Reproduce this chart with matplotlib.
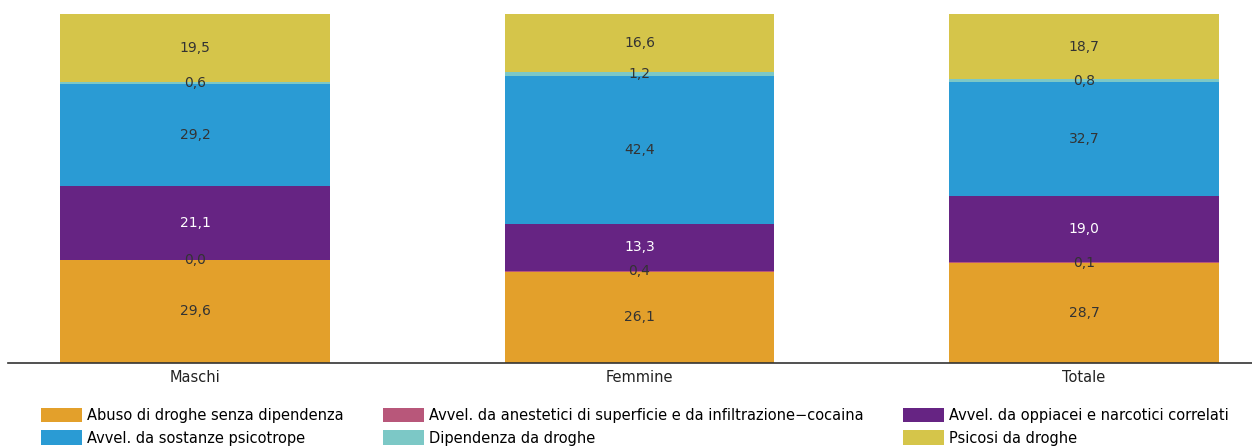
import numpy as np
import matplotlib
matplotlib.use('Agg')
import matplotlib.pyplot as plt
from matplotlib.patches import Patch

# Data (percentages)
groups = ['Maschi', 'Femmine', 'Totale']
series = [
    'Abuso di droghe senza dipendenza',
    'Avvel. da anestetici di superficie e da infiltrazione\u2212cocaina',
    'Avvel. da oppiacei e narcotici correlati',
    'Avvel. da sostanze psicotrope',
    'Dipendenza da droghe',
    'Psicosi da droghe',
]
abuso = [29.6, 26.1, 28.7]
anestetici = [0.0, 0.4, 0.1]
oppiacei = [21.1, 13.3, 19.0]
psicotrope = [29.2, 42.4, 32.7]
dipendenza = [0.6, 1.2, 0.8]
psicosi = [19.5, 16.6, 18.7]

values = [abuso, anestetici, oppiacei, psicotrope, dipendenza, psicosi]
colors = ['#E3A02B', '#B8577A', '#662483', '#2A9BD4', '#7CC8C6', '#D5C54A']
text_colors = ['#333333', '#333333', 'white', '#333333', '#333333', '#333333']

fig = plt.figure(figsize=(12.52, 4.47), dpi=100)
ax = fig.add_axes([8 / 1252, (447 - 363) / 447, 1 - 8 / 1252, (363 - 14) / 447])

x = np.arange(len(groups))
width = 0.607
bottom = np.zeros(len(groups))
for vals, col, tcol in zip(values, colors, text_colors):
    vals = np.array(vals)
    ax.bar(x, vals, width, bottom=bottom, color=col, edgecolor='none')
    for xi, b, v in zip(x, bottom, vals):
        ax.text(xi, b + v / 2, f'{v:.1f}'.replace('.', ','), ha='center', va='center',
                fontsize=10, color=tcol)
    bottom += vals

ax.set_xlim(-0.421, 2.378)
ax.set_ylim(0, 100)
ax.set_xticks(x)
ax.set_xticklabels(groups, fontsize=10.5, color='#222222')
ax.tick_params(axis='x', length=0, pad=5)
ax.set_yticks([])
for side in ['top', 'right', 'left']:
    ax.spines[side].set_visible(False)
ax.spines['bottom'].set_color('#333333')
ax.spines['bottom'].set_linewidth(1.2)

# legend filled row by row (matplotlib fills by column, so reorder)
ncol = 3
order = [0, 3, 1, 4, 2, 5]
handles = [Patch(facecolor=colors[i], edgecolor='none') for i in order]
labels = [series[i] for i in order]
fig.legend(handles, labels, loc='lower left', bbox_to_anchor=(40 / 1252, 0.0),
           ncol=ncol, frameon=False, fontsize=10.5, handlelength=2.8, handleheight=1.15,
           handletextpad=0.3, columnspacing=2.75, labelspacing=0.5,
           borderpad=0.05, borderaxespad=0.05)

fig.savefig('out.png', dpi=100)
